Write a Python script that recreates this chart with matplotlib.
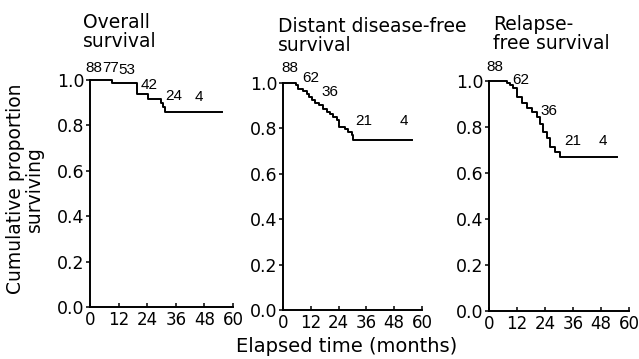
import matplotlib
matplotlib.use("Agg")
import matplotlib.pyplot as plt

# Kaplan-Meier style step curves (months, proportion)
overall_t = [0, 9.1, 19.6, 24.5, 29.8, 30.6, 31.5, 55.2]
overall_s = [1.0, 0.988, 0.938, 0.915, 0.897, 0.88, 0.858, 0.858]

distant_t = [0, 5.6, 6.6, 8.8, 10.2, 11.4, 12.4, 13.8, 15.7, 17.1, 18.9,
             20.3, 21.7, 23.4, 24.3, 26.8, 28.2, 29.7, 30.3, 55.5]
distant_s = [1.0, 0.99, 0.975, 0.965, 0.953, 0.938, 0.924, 0.912, 0.902,
             0.887, 0.872, 0.862, 0.850, 0.838, 0.806, 0.799, 0.785, 0.770,
             0.751, 0.751]

relapse_t = [0, 7.8, 9.0, 10.4, 12.1, 14.0, 16.2, 18.3, 20.4, 21.9, 23.3,
             24.7, 26.1, 28.3, 30.4, 55.0]
relapse_s = [1.0, 0.99, 0.983, 0.968, 0.932, 0.903, 0.881, 0.866, 0.845,
             0.813, 0.780, 0.751, 0.714, 0.693, 0.668, 0.668]

# numbers at risk, with where they are printed
overall_risk = ["88", "77", "53", "42", "24", "4"]
overall_risk_t = [1.6, 8.6, 15.6, 25, 35, 45.6]
overall_risk_y = [1.02, 1.02, 1.015, 0.947, 0.90, 0.894]

distant_risk = ["88", "62", "36", "21", "4"]
distant_risk_t = [3, 12.0, 20.4, 35, 52]
distant_risk_y = [1.034, 0.99, 0.931, 0.80, 0.80]

relapse_risk = ["88", "62", "36", "21", "4"]
relapse_risk_t = [2.6, 13.7, 25.6, 35.7, 48.6]
relapse_risk_y = [1.03, 0.974, 0.839, 0.709, 0.709]

titles = ["Overall\nsurvival", "Distant disease-free\nsurvival",
          "Relapse-\nfree survival"]
x_ticks = [0, 12, 24, 36, 48, 60]
y_ticks = [0.0, 0.2, 0.4, 0.6, 0.8, 1.0]

W, H = 639, 359
fig = plt.figure(figsize=(W / 100, H / 100), dpi=100)
plt.rcParams["font.family"] = ["DejaVu Sans"]


def px_axes(left, right, top, bottom):
    return [left / W, 1 - bottom / H, (right - left) / W, (bottom - top) / H]


boxes = [px_axes(90, 233, 80, 307), px_axes(283, 422, 83, 310),
         px_axes(489, 629, 81, 311)]
curves = [(overall_t, overall_s), (distant_t, distant_s),
          (relapse_t, relapse_s)]
risks = [(overall_risk, overall_risk_t, overall_risk_y),
         (distant_risk, distant_risk_t, distant_risk_y),
         (relapse_risk, relapse_risk_t, relapse_risk_y)]
title_pos = [(83, 13), (278, 17), (493, 15)]

for box, (t, s), (labels, lt, ly), title, (tx, ty) in zip(
        boxes, curves, risks, titles, title_pos):
    ax = fig.add_axes(box)
    ax.plot(t, s, drawstyle="steps-post", color="black", lw=1.4,
            clip_on=False)
    for lab, xm, yv in zip(labels, lt, ly):
        ax.text(xm, yv, lab, ha="center", va="bottom", fontsize=11,
                family="Liberation Sans", clip_on=False)
    ax.set_xlim(0, 60)
    ax.set_ylim(0, 1.0)
    ax.set_xticks(x_ticks)
    ax.set_yticks(y_ticks)
    ax.set_yticklabels([f"{v:.1f}" for v in y_ticks])
    for side in ("top", "right"):
        ax.spines[side].set_visible(False)
    for side in ("left", "bottom"):
        ax.spines[side].set_linewidth(1.4)
    ax.tick_params(axis="y", direction="out", length=3, width=1.1,
                   labelsize=12.5, pad=1)
    ax.tick_params(axis="x", direction="in", length=3, width=1.1,
                   labelsize=12, pad=3)
    fig.text(tx / W, 1 - ty / H, title, ha="left", va="top", fontsize=13.5,
             linespacing=1.0)

fig.text(347 / W, 1 - 356 / H, "Elapsed time (months)", ha="center",
         va="bottom", fontsize=14)
fig.text(25 / W, 1 - 189 / H, "Cumulative proportion\nsurviving",
         rotation=90, ha="center", va="center", fontsize=13.5,
         linespacing=0.95, multialignment="center")

fig.savefig("out.png", dpi=100)
